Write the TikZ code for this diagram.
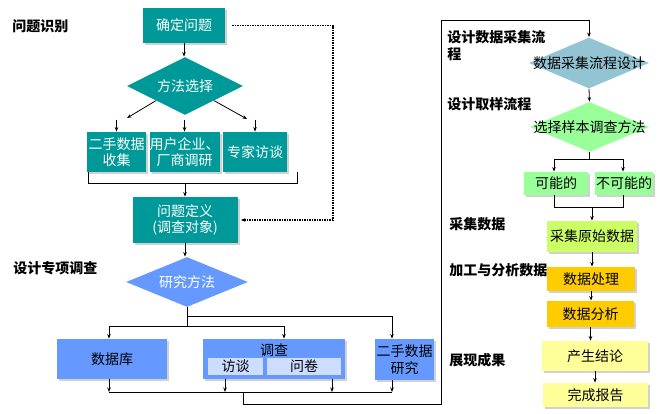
\documentclass[tikz,border=0pt]{standalone}
\usepackage{fontspec}
\setmainfont{Noto Sans CJK SC}
\usetikzlibrary{shapes.geometric,arrows.meta,shadows}
\definecolor{tealbox}{RGB}{0,153,153}
\definecolor{bluebox}{RGB}{102,153,255}
\definecolor{paleblue}{RGB}{204,221,255}
\definecolor{steeldia}{RGB}{146,196,212}
\definecolor{greenbox}{RGB}{153,255,153}
\definecolor{limebox}{RGB}{204,255,102}
\definecolor{goldbox}{RGB}{255,204,0}
\definecolor{creambox}{RGB}{255,255,153}
\tikzset{
    box/.style 2 args={rectangle, inner sep=0pt, align=center,
        minimum width=#1pt, minimum height=#2pt,
        drop shadow={shadow xshift=2pt, shadow yshift=-2pt, fill=black!30, opacity=0.6}},
    inbox/.style 2 args={rectangle, inner sep=0pt, minimum width=#1pt, minimum height=#2pt},
    dia/.style 2 args={diamond, inner sep=0pt, minimum width=#1pt, minimum height=#2pt},
    stage/.style={anchor=west, align=left, inner sep=0pt,
        font=\fontsize{14}{17}\selectfont\bfseries}
}

\begin{document}
\begin{tikzpicture}[x=1pt, y=-1pt, line width=0.8pt,
    >={Stealth[length=4.5pt,width=3.5pt]},
    font=\fontsize{14}{16.5}\selectfont]
    \useasboundingbox (0,0) rectangle (665,413);

    % Problem identification (left, top)
    \node[stage] (s1) at (12,26) {问题识别};
    \node[box={82}{35}, fill=tealbox, text=white] (q1) at (184,25.5) {确定问题};
    \node[dia={116}{58}, fill=tealbox, label={[text=white]center:方法选择}] (d1) at (185,86) {};
    \node[box={59}{40}, fill=tealbox, text=white] (b1) at (116.5,152) {二手数据\\收集};
    \node[box={65}{40}, fill=tealbox, text=white] (b2) at (184.5,152) {用户企业、\\厂商调研};
    \node[box={64}{40}, fill=tealbox, text=white] (b3) at (255,152) {专家访谈};
    \node[box={105}{46}, fill=tealbox, text=white] (q2) at (185,220) {问题定义\\(调查对象)};

    \coordinate (l1) at (127,118);
    \coordinate (r1) at (247,119);
    \coordinate (dotr) at (333,120);
    \draw[->] (q1.south) -- (q1.south |- d1.north);
    \draw[->] (d1.south west) -- (l1);
    \draw[->] (d1.south east) -- (r1);
    \foreach \b in {b1,b2,b3}
        \draw[->] ([yshift=12pt]\b.north) -- (\b.north);
    \draw ([xshift=2pt]b1.south west) -- ++(0,11) coordinate (brk) -| ([xshift=10pt]b3.south east);
    \draw[->] (q2.north |- brk) -- (q2.north);
    \draw[->, densely dotted, line width=1.5pt] ([xshift=7pt]q1.east) -| (dotr) |- ([xshift=3pt]q2.east);

    % Special survey design (left, bottom)
    \node[stage] (s2) at (13,268) {设计专项调查};
    \node[dia={122}{50}, fill=bluebox, label={[text=white]center:研究方法}] (d2) at (187,282) {};
    \node[box={110}{40}, fill=bluebox] (c1) at (112,359) {数据库};
    \node[box={142}{40}, fill=bluebox] (c2) at (274,359) {};
    \node (c2t) at (274,350) {调查};
    \node[inbox={55}{17}, fill=paleblue] (c2a) at (235.5,366.5) {访谈};
    \node[inbox={74}{17}, fill=paleblue] (c2b) at (304,366.5) {问卷};
    \node[box={59}{41}, fill=bluebox] (c3) at (404.5,359.5) {二手数据\\研究};

    \draw[->] (q2.south) -- (q2.south |- d2.north);
    \draw (d2.south) -- ++(0,19) coordinate (spl);
    \draw[->] (spl) -| ([xshift=-3pt]c1.north);
    \draw[->] (spl) -| ([xshift=10pt]c2.north);
    \draw[->] ([yshift=10pt]spl) -| ([xshift=-12.5pt]c3.north);

    \coordinate (bus) at (0,392);
    \coordinate (ret) at (441,20);
    \foreach \s/\dx in {c1/-3, c2/-49, c2/58, c3/-12.5}
        \draw[->] ([xshift=\dx pt]\s.south) -- ([xshift=\dx pt]\s.south |- bus);
    \draw ([xshift=-3pt]c1.south |- bus) -- ([xshift=-12.5pt]c3.south |- bus);

    % Data collection and analysis (right column)
    \node[stage, anchor=north west] (s3) at (447,30) {设计数据采集流\\程};
    \node[dia={120}{51}, fill=steeldia, label={center:数据采集流程设计}] (d3) at (589,63) {};
    \node[stage] (s4) at (447,104) {设计取样流程};
    \node[dia={119}{50}, fill=greenbox, label={center:选择样本调查方法}] (d4) at (589.5,127) {};
    \node[box={64}{23}, fill=greenbox] (e1) at (556,183.5) {可能的};
    \node[box={58}{23}, fill=greenbox] (e2) at (624,183.5) {不可能的};
    \node[stage] (s5) at (449,224) {采集数据};
    \node[box={90}{31}, fill=limebox] (f1) at (592,236.5) {采集原始数据};
    \node[stage] (s6) at (449,270) {加工与分析数据};
    \node[box={88}{24}, fill=goldbox] (g1) at (591,279) {数据处理};
    \node[box={87}{26}, fill=goldbox] (g2) at (590.5,314) {数据分析};
    \node[box={106}{30}, fill=creambox] (h1) at (595,356) {产生结论};
    \node[stage] (s7) at (449,360) {展现成果};
    \node[box={105}{24}, fill=creambox] (h2) at (595.5,395) {完成报告};

    \draw[->] ([xshift=-31pt]c2.south |- bus) -- ++(0,12) -| (ret) -| (d3.north);
    \draw[->] (d3.south) -- (d4.north);
    \draw (d4.south) -- ++(0,7) coordinate (spl2);
    \draw[->] (spl2) -| ([xshift=-2pt]e1.north);
    \draw[->] (spl2) -| ([xshift=-1pt]e2.north);
    \draw ([xshift=-2pt]e1.south) -- ++(0,12) coordinate (mrg) -| ([xshift=-1pt]e2.south);
    \draw[->] (f1.north |- mrg) -- (f1.north);
    \draw[->] (f1.south) -- (f1.south |- g1.north);
    \draw[->] (g1.south) -- (g1.south |- g2.north);
    \draw[->] (g2.south) -- (g2.south |- h1.north);
    \draw[->] (h1.south) -- (h1.south |- h2.north);
\end{tikzpicture}
\end{document}
